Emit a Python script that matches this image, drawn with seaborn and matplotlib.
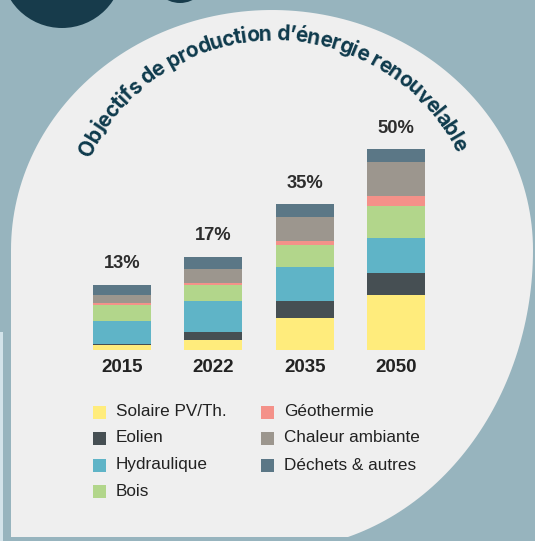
import numpy as np
import seaborn as sns
import matplotlib.pyplot as plt
from matplotlib.patches import Polygon, Circle, Rectangle
from matplotlib.font_manager import FontProperties

sns.set_style("white")
plt.rcParams["font.family"] = ["Liberation Sans", "DejaVu Sans"]

# data
years = ["2015", "2022", "2035", "2050"]
totals = ["13%", "17%", "35%", "50%"]
sources = ["Solaire PV/Th.", "Eolien", "Hydraulique", "Bois",
           "Géothermie", "Chaleur ambiante", "Déchets & autres"]
colors = ["#FFEC7C", "#464F53", "#5FB4C7", "#B2D68B",
          "#F49189", "#9C968E", "#5B7786"]

# segment heights (same arbitrary unit for every bar)
solaire = [4.7, 9.7, 31.3, 54.3]
eolien = [1.3, 8.0, 17.0, 22.0]
hydraulique = [22.7, 31.0, 34.0, 35.0]
bois = [15.7, 16.0, 22.0, 32.0]
geothermie = [1.7, 2.0, 4.0, 10.0]
chaleur = [8.7, 14.0, 24.0, 34.0]
dechets = [10.0, 12.0, 13.0, 13.0]
series = [solaire, eolien, hydraulique, bois, geothermie, chaleur, dechets]

title = "Objectifs de production d’énergie renouvelable"

W, H = 535, 541
fig = plt.figure(figsize=(W / 100, H / 100), dpi=100)
fig.patch.set_facecolor("#97B4BE")

# background layer in pixel coordinates
ax_bg = fig.add_axes([0, 0, 1, 1])
ax_bg.set_xlim(0, W)
ax_bg.set_ylim(H, 0)
ax_bg.axis("off")

# dark circles at the top
ax_bg.add_patch(Circle((62, -33), 61, color="#173B4B", lw=0))
ax_bg.add_patch(Circle((180, -25), 28, color="#173B4B", lw=0))

# pale strip on the left
ax_bg.add_patch(Rectangle((-1, 332), 4, 220, facecolor="#D3E3EA", edgecolor="none"))

# white rounded panel
cx, cy, a, b_top, b_bot = 272, 250, 261, 240, 300
th = np.linspace(0, np.pi, 120)
top = np.column_stack([cx + a * np.cos(th), cy - b_top * np.sin(th)])
th0 = np.arcsin(287 / b_bot)
th2 = np.linspace(th0, 0, 60)
bot = np.column_stack([cx + a * np.cos(th2), cy + b_bot * np.sin(th2)])
pts = np.vstack([top, [[11, 537]], bot])
ax_bg.add_patch(Polygon(pts, closed=True, facecolor="#EFEFEF", edgecolor="none"))

# curved title
renderer = fig.canvas.get_renderer()


def text_w(s, fp):
    t = ax_bg.text(0, 0, s + "|", fontproperties=fp)
    w = t.get_window_extent(renderer).width
    t.remove()
    return w


fs = 15
fp = FontProperties(family=["Inter", "DejaVu Sans"], weight="bold", size=fs)
base = text_w("", fp)
pref = [text_w(title[:i], fp) - base for i in range(len(title) + 1)]
centers = np.array([(pref[i] + pref[i + 1]) / 2 for i in range(len(title))])
centers -= centers[0]
R_c = 211
arc_len = R_c * np.radians(124.4)
centers = centers * arc_len / centers[-1]
tcx, tcy = 274, 244
R_b = R_c - 0.36 * fs * 100 / 72
theta_mid = np.radians(90.4)
for ch, c in zip(title, centers):
    if ch == " ":
        continue
    ang = theta_mid + (arc_len / 2 - c) / R_c
    ax_bg.text(tcx + R_b * np.cos(ang), tcy - R_b * np.sin(ang), ch,
               fontproperties=fp, color="#0E3A4C", ha="center", va="baseline",
               rotation=np.degrees(ang) - 90, rotation_mode="anchor")

# legend
rows = [412, 438, 465, 491]
for i, (name, col) in enumerate(zip(sources, colors)):
    x0 = 93 if i < 4 else 261
    y0 = rows[i] if i < 4 else rows[i - 4]
    ax_bg.add_patch(Rectangle((x0, y0 - 6.5), 13, 13, facecolor=col, edgecolor="none"))
    ax_bg.text(x0 + 23, y0, name, fontsize=12.3, color="#222222", va="center", ha="left")

# stacked bars
ax = fig.add_axes([76.35 / W, (H - 349.5) / H, 365.3 / W, 250 / H])
ax.patch.set_alpha(0)
cum = np.cumsum(np.array(series), axis=0)
for i in range(len(series) - 1, -1, -1):
    sns.barplot(x=years, y=cum[i], order=years, color=colors[i], saturation=1,
                width=0.635, linewidth=0, edgecolor="none", ax=ax)
ax.set_xlim(-0.5, 3.5)
ax.set_ylim(0, 250)
ax.axis("off")

for i, yr in enumerate(years):
    ax.text(i, cum[-1][i] + 21, totals[i], ha="center", va="center",
            fontsize=13.2, fontweight="bold", color="#2D2D2D")
    ax.text(i, -17.5, yr, ha="center", va="center", fontsize=13.5,
            fontweight="bold", color="#222222", clip_on=False)

fig.savefig("out.png", dpi=100)
